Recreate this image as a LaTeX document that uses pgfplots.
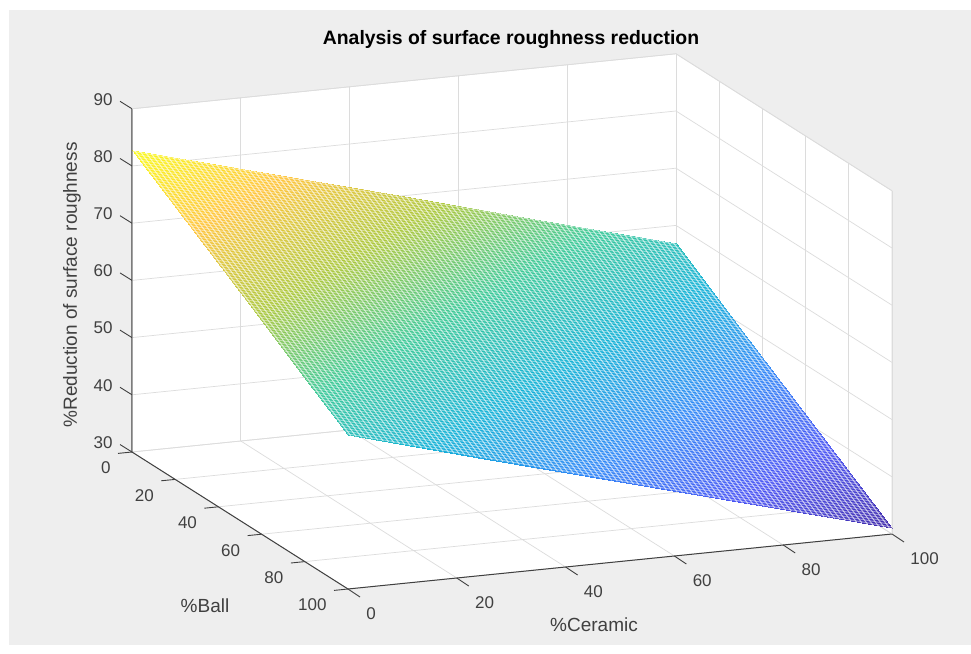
\documentclass[border=0pt]{standalone}
\usepackage{pgfplots}
\pgfplotsset{compat=1.18}
\usepackage{fontspec}
\setmainfont{Liberation Sans}
\definecolor{figgray}{HTML}{EEEEEE}
\definecolor{ticktxt}{HTML}{404040}
\definecolor{gridc}{HTML}{DCDCDC}
\pgfdeclarelayer{bgl}
\pgfsetlayers{bgl,main}
\pgfplotsset{colormap={parulaish}{rgb=(0.2422,0.1504,0.6603) rgb=(0.2810,0.3228,0.9579) rgb=(0.1786,0.5289,0.9682) rgb=(0.0689,0.6948,0.8394) rgb=(0.2161,0.7843,0.5923) rgb=(0.6720,0.7793,0.2227) rgb=(0.9970,0.7659,0.2199) rgb=(0.9769,0.9839,0.0805)}}
\begin{document}
\begin{tikzpicture}
\begin{axis}[
  x={(5.44pt,0.55pt)}, y={(-2.16pt,1.37pt)}, z={(0pt,5.72pt)},
  xmin=0,xmax=100,ymin=0,ymax=100,zmin=30,zmax=90,
  y dir=reverse,
  xtick={0,20,...,100}, ytick={0,20,...,100}, ztick={30,40,...,90},
  grid=major, major grid style={gridc,line width=0.7pt},
  axis line style={draw=none},
  tick align=outside, major tick length=14pt,
  major tick style={draw=none},
  clip=false,
  colormap name=parulaish,
  point meta min=31, point meta max=82.8,
  /pgf/number format/assume math mode=true,
  tick label style={font=\fontsize{17}{17}\selectfont,text=ticktxt},
  xticklabel style={anchor=north west,xshift=3pt,yshift=-8pt},
  yticklabel style={anchor=north east,xshift=-4pt,yshift=-5pt},
  zticklabel style={anchor=east,xshift=-4pt,yshift=2pt},
  xlabel={\%Ceramic}, ylabel={\%Ball}, zlabel={\%Reduction of surface roughness},
  title={\textbf{Analysis of surface roughness reduction}},
  every axis x label/.style={at={(axis cs:0,100,30)},xshift=246pt,yshift=-36pt,anchor=center,font=\fontsize{19}{19}\selectfont,text=ticktxt},
  every axis y label/.style={at={(axis cs:0,0,30)},xshift=73pt,yshift=-154pt,anchor=center,font=\fontsize{19}{19}\selectfont,text=ticktxt},
  every axis z label/.style={at={(axis cs:0,0,30)},xshift=-60pt,yshift=167pt,rotate=90,anchor=center,font=\fontsize{19}{19}\selectfont,text=ticktxt},
  every axis title/.style={at={(axis cs:0,0,30)},xshift=379pt,yshift=412pt,anchor=center,font=\fontsize{19.4}{19.4}\selectfont,text=black},
]
\addplot3[surf,shader=interp,mesh/rows=5,point meta=z] table {
0 0 82.8
25 0 76.3
50 0 69.9
75 0 63.4
100 0 56.9
0 25 76.3
25 25 69.9
50 25 63.4
75 25 56.9
100 25 50.4
0 50 69.9
25 50 63.4
50 50 56.9
75 50 50.4
100 50 43.9
0 75 63.4
25 75 56.9
50 75 50.4
75 75 43.9
100 75 37.5
0 100 56.9
25 100 50.4
50 100 43.9
75 100 37.5
100 100 31.0
};
% fine white weave of the mesh
\pgfplotsforeachungrouped \i in {0,...,99}{
  \pgfmathsetmacro{\xx}{\i+0.5}
  \pgfmathsetmacro{\za}{82.8-0.259*\xx}
  \pgfmathsetmacro{\zb}{\za-25.9}
  \edef\temp{\noexpand\draw[white,opacity=0.65,line width=1pt] (axis cs:\xx,0,\za) -- (axis cs:\xx,100,\zb);
  \noexpand\draw[white,opacity=0.45,line width=1pt] (axis cs:0,\xx,\za) -- (axis cs:100,\xx,\zb);}
  \temp
}
% tick marks in the reference's directions
\pgfplotsforeachungrouped \t in {0,20,...,100}{
  \edef\temp{\noexpand\draw[ticktxt,line width=0.9pt] (axis cs:\t,100,30) -- ++(12pt,-8pt);
  \noexpand\draw[ticktxt,line width=0.9pt] (axis cs:0,\t,30) -- ++(-14pt,-1.4pt);}
  \temp
}
\pgfplotsforeachungrouped \t in {30,40,...,90}{
  \edef\temp{\noexpand\draw[ticktxt,line width=0.9pt] (axis cs:0,0,\t) -- ++(-12pt,7.5pt);}
  \temp
}
\coordinate (A) at (axis cs:0,0,30);
\coordinate (B) at (axis cs:0,100,30);
\coordinate (C) at (axis cs:100,100,30);
\coordinate (D) at (axis cs:100,0,30);
\coordinate (At) at (axis cs:0,0,90);
\coordinate (Ct) at (axis cs:100,100,90);
\coordinate (Dt) at (axis cs:100,0,90);
\draw[ticktxt,line width=1pt] (At) -- (A) -- (B) -- (C);
\draw[gridc,line width=0.7pt] (At) -- (Dt) -- (Ct) -- (C);
\end{axis}
\begin{pgfonlayer}{bgl}
\fill[white] ([shift={(-132pt,452pt)}]A) rectangle ([shift={(839pt,-201pt)}]A);
\fill[figgray] ([shift={(-123pt,442pt)}]A) rectangle ([shift={(839pt,-193pt)}]A);
\fill[white] (A) -- (B) -- (C) -- (Ct) -- (Dt) -- (At) -- cycle;
\end{pgfonlayer}
\end{tikzpicture}
\end{document}
